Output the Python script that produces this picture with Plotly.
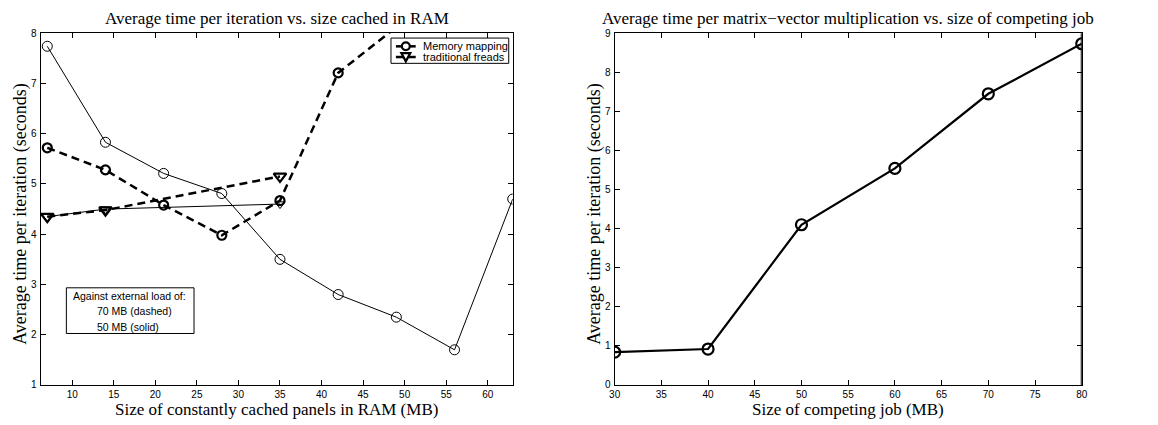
import plotly.graph_objects as go

# ---------------- data ----------------
cache_mb = [7, 14, 21, 28, 35, 42, 49, 56, 63]
mmap_solid = [7.74, 5.83, 5.21, 4.81, 3.50, 2.80, 2.35, 1.70, 4.70]

cache_mb_dashed = [7, 14, 21, 28, 35, 42, 49]
mmap_dashed = [5.72, 5.28, 4.58, 3.98, 4.67, 7.21, 8.12]

fread_x = [7, 14, 35]
fread_solid = [4.35, 4.50, 4.60]
fread_dashed = [4.35, 4.48, 5.15]

job_mb = [30, 40, 50, 60, 70, 80]
job_time = [0.84, 0.92, 4.10, 5.54, 7.45, 8.73]

left_xticks = [10, 15, 20, 25, 30, 35, 40, 45, 50, 55, 60]
left_yticks = [1, 2, 3, 4, 5, 6, 7, 8]
right_xticks = [30, 35, 40, 45, 50, 55, 60, 65, 70, 75, 80]
right_yticks = [0, 1, 2, 3, 4, 5, 6, 7, 8, 9]

legend_labels = ["Memory mapping", "traditional freads"]
note_lines = ["Against external load of:", "70 MB (dashed)", "50 MB (solid)"]

# ---------------- layout geometry ----------------
W, H = 1158, 425
def px(x):
    return x / W
def py(y):
    return 1 - y / H

SERIF = "Liberation Serif, Times New Roman, serif"
SANS = "Liberation Sans, Arial, sans-serif"

fig = go.Figure()

# left panel traces
fig.add_trace(go.Scatter(x=cache_mb, y=mmap_solid, mode="lines+markers",
                         line=dict(color="black", width=1),
                         marker=dict(symbol="circle-open", size=10, color="black", line=dict(width=1)),
                         showlegend=False, xaxis="x", yaxis="y"))
fig.add_trace(go.Scatter(x=fread_x, y=fread_solid, mode="lines+markers",
                         line=dict(color="black", width=1),
                         marker=dict(symbol="triangle-down-open", size=9, color="black", line=dict(width=1)),
                         showlegend=False, xaxis="x", yaxis="y"))
fig.add_trace(go.Scatter(x=cache_mb_dashed, y=mmap_dashed, mode="lines+markers",
                         line=dict(color="black", width=2.5, dash="8px,5px"),
                         marker=dict(symbol="circle-open", size=9, color="black", line=dict(width=2.2)),
                         showlegend=False, xaxis="x", yaxis="y"))
fig.add_trace(go.Scatter(x=fread_x, y=fread_dashed, mode="lines+markers",
                         line=dict(color="black", width=2.5, dash="8px,5px"),
                         marker=dict(symbol="triangle-down-open", size=11, color="black", line=dict(width=2.2)),
                         showlegend=False, xaxis="x", yaxis="y"))

# right panel
fig.add_trace(go.Scatter(x=job_mb, y=job_time, mode="lines+markers",
                         line=dict(color="black", width=2.2),
                         marker=dict(symbol="circle-open", size=11, color="black", line=dict(width=2.2)),
                         showlegend=False, xaxis="x2", yaxis="y2"))

axis_common = dict(showline=True, linecolor="black", linewidth=1, mirror="ticks",
                   ticks="inside", ticklen=5, tickcolor="black", tickwidth=1,
                   showgrid=False, zeroline=False,
                   tickfont=dict(family=SANS, size=10, color="black"))

ydom = [py(390), py(28)]

fig.update_layout(
    width=W, height=H,
    margin=dict(l=0, r=0, t=0, b=0),
    paper_bgcolor="white", plot_bgcolor="white",
    xaxis=dict(domain=[px(35), px(512)], range=[6.2, 63], tickvals=left_xticks,
               anchor="y", **axis_common),
    yaxis=dict(domain=ydom, range=[1, 8], tickvals=left_yticks, anchor="x",
               ticklabelstandoff=1, **axis_common),
    xaxis2=dict(domain=[px(615), px(1087)], range=[30, 80], tickvals=right_xticks,
                anchor="y2", **axis_common),
    yaxis2=dict(domain=ydom, range=[0, 9], tickvals=right_yticks, anchor="x2",
                ticklabelstandoff=1, **axis_common),
    showlegend=False,
)

annotations = [
    dict(text="Average time per iteration vs. size cached in RAM", x=px(273.5), y=py(13),
         font=dict(family=SERIF, size=17, color="black")),
    dict(text="Average time per matrix\u2212vector multiplication vs. size of competing job",
         x=px(851), y=py(13), font=dict(family=SERIF, size=17, color="black")),
    dict(text="Size of constantly cached panels in RAM (MB)", x=px(273.5), y=py(415),
         font=dict(family=SERIF, size=17, color="black")),
    dict(text="Size of competing job (MB)", x=px(851), y=py(415),
         font=dict(family=SERIF, size=17, color="black")),
    dict(text="Average time per iteration (seconds)", x=px(15), y=py(214), textangle=-90,
         font=dict(family=SERIF, size=18, color="black")),
    dict(text="Average time per iteration (seconds)", x=px(595), y=py(214), textangle=-90,
         font=dict(family=SERIF, size=18, color="black")),
    dict(text=note_lines[0], x=px(66), y=py(298), xanchor="left",
         font=dict(family=SANS, size=10.5, color="black")),
    dict(text=note_lines[1], x=px(90), y=py(314), xanchor="left",
         font=dict(family=SANS, size=10.5, color="black")),
    dict(text=note_lines[2], x=px(90), y=py(330), xanchor="left",
         font=dict(family=SANS, size=10.5, color="black")),
    dict(text=legend_labels[0], x=px(419), y=py(41.5), xanchor="left",
         font=dict(family=SANS, size=11, color="black")),
    dict(text=legend_labels[1], x=px(419), y=py(52.5), xanchor="left",
         font=dict(family=SANS, size=11, color="black")),
]
for a in annotations:
    a.setdefault("xanchor", "center")
    a.update(xref="paper", yref="paper", yanchor="middle", showarrow=False)
fig.update_layout(annotations=annotations)

# note box
fig.add_shape(type="rect", xref="paper", yref="paper",
              x0=px(61), x1=px(190), y0=py(337), y1=py(290),
              line=dict(color="black", width=1), fillcolor="rgba(0,0,0,0)")

# legend box and symbols
fig.add_shape(type="rect", xref="paper", yref="paper",
              x0=px(389), x1=px(508), y0=py(59), y1=py(33),
              line=dict(color="black", width=1), fillcolor="white", layer="above")
for yc in (41.5, 52.5):
    fig.add_shape(type="line", xref="paper", yref="paper",
                  x0=px(394), x1=px(414), y0=py(yc), y1=py(yc),
                  line=dict(color="black", width=2.5), layer="above")
fig.add_shape(type="circle", xref="paper", yref="paper",
              x0=px(400), x1=px(408), y0=py(45.5), y1=py(37.5),
              line=dict(color="black", width=2.2), fillcolor="white", layer="above")
tri = "M {:.5f},{:.5f} L {:.5f},{:.5f} L {:.5f},{:.5f} Z".format(
    px(399.5), py(48.5), px(408.5), py(48.5), px(404), py(57))
fig.add_shape(type="path", path=tri, xref="paper", yref="paper",
              line=dict(color="black", width=2.2), fillcolor="white", layer="above")

# heavier right spine on the right panel
fig.add_shape(type="line", xref="x2", yref="paper", x0=80, x1=80,
              y0=ydom[0], y1=ydom[1], line=dict(color="black", width=2), layer="above")

fig.write_html("out.html", config={"displayModeBar": False},
               post_script="document.body.style.margin='0';")
